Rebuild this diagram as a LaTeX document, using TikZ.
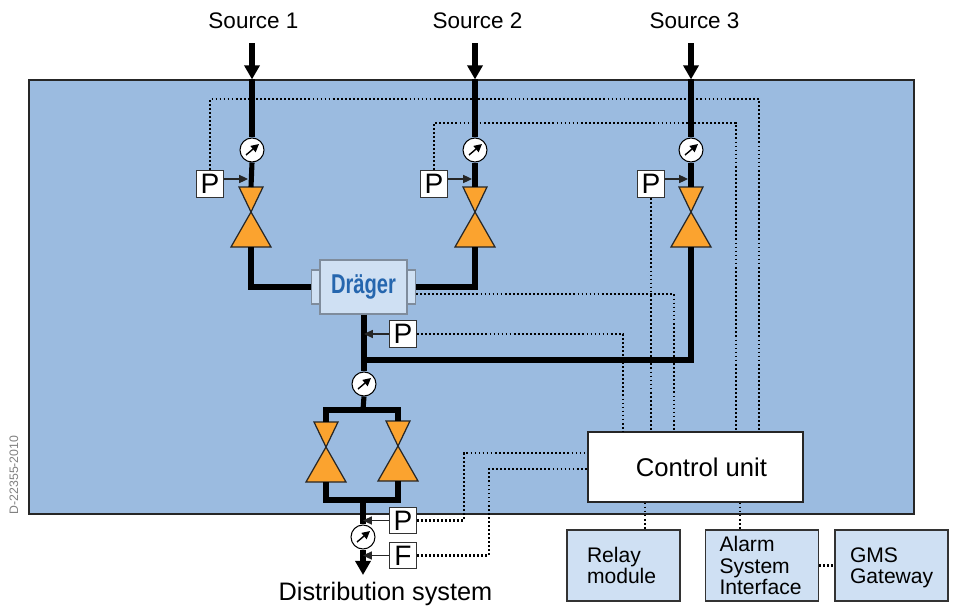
\documentclass[tikz,border=0pt]{standalone}
\usepackage{fontspec}
\setmainfont{Liberation Sans}
\newfontfamily\logofont[FakeStretch=0.74]{Liberation Sans}
\usetikzlibrary{arrows.meta, calc}
\definecolor{panelblue}{HTML}{9BBBE0}
\definecolor{boxblue}{HTML}{CFE0F3}
\definecolor{valveorange}{HTML}{FBA32F}
\definecolor{logoblue}{HTML}{2566AE}
\definecolor{tabgray}{HTML}{7F8C9C}
\tikzstyle{flow} = [draw, line width=2.9pt]
\tikzstyle{flowend} = [flow, -{Triangle[length=8pt, width=8.5pt]}]
\tikzstyle{sig} = [draw, black, line width=1.5pt, dash pattern=on 1pt off 1.3pt]
\tikzstyle{feed} = [draw, black!85, line width=0.7pt, -{Triangle[length=5pt, width=4.6pt]}]
\tikzstyle{sensor} = [rectangle, draw, black!80, fill=white, line width=0.6pt, minimum size=0.53cm, inner sep=0pt, font=\fontsize{16}{16}\selectfont, text=black]
\tikzstyle{gauge} = [circle, draw, fill=white, line width=0.6pt, minimum size=0.48cm, inner sep=0pt]
\tikzstyle{valve} = [draw=black!85, fill=valveorange, line width=0.7pt]
\tikzstyle{sidetab} = [rectangle, draw=tabgray, fill=boxblue, line width=0.7pt, minimum width=0.17cm, minimum height=0.68cm, inner sep=0pt]
\tikzstyle{module} = [rectangle, draw, black!80, fill=boxblue, line width=0.6pt, minimum width=2.26cm, minimum height=1.42cm, text width=2.26cm, inner xsep=0pt, inner ysep=0pt, align=left, text=black, font=\fontsize{12}{12.1}\selectfont]
\tikzstyle{label} = [font=\fontsize{12.8}{14}\selectfont]
\begin{document}
\begin{tikzpicture}[x=0.02cm, y=-0.02cm]
    \useasboundingbox (0,0) rectangle (953,608);
    \node[rectangle, draw, black!85, fill=panelblue, line width=0.7pt, minimum width=17.7cm, minimum height=8.68cm, inner sep=0pt] (panel) at (471.5,297) {};
    \node[gray, rotate=90, font=\fontsize{7}{7}\selectfont] (code) at (14,475) {D-22355-2010};
    %%% Sources:
    \node[label] (src1) at (253.5,21) {Source 1};
    \node[label] (src2) at (477.5,21) {Source 2};
    \node[label] (src3) at (694.5,21) {Source 3};
    %%% Valves:
    \foreach \nm/\x/\y in {v1/251/212, v2/475/212, v3/691/212, v4/326/447, v5/398/446} {
      \coordinate (\nm t) at (\x,\y-25);
      \coordinate (\nm b) at (\x,\y+35);
      \draw[valve] (\x-12,\y-25) -- (\x+12,\y-25) -- (\x,\y) -- cycle;
      \draw[valve] (\x,\y) -- (\x+20,\y+35) -- (\x-20,\y+35) -- cycle;
    }
    %%% Gauges:
    \foreach \nm/\x/\y in {g1/252/150, g2/475/150, g3/691/150, g4/364/384, g5/363/537} {
      \node[gauge] (\nm) at (\x,\y) {};
      \draw[line width=0.8pt, -{Triangle[length=4.5pt, width=4.5pt]}] ($(\nm)+(-6,5)$) -- ($(\nm)+(7,-6)$);
    }
    %%% Sensors:
    \node[sensor] (p1) at (210,184) {P};
    \node[sensor] (p2) at (434,184) {P};
    \node[sensor] (p3) at (651,184) {P};
    \node[sensor] (p4) at (403,334) {P};
    \node[sensor] (p5) at (403,520.5) {P};
    \node[sensor] (f1) at (403,555.5) {F};
    %%% Blender:
    \node[sidetab] (tabl) at (316,287) {};
    \node[sidetab] (tabr) at (411,287) {};
    \node[rectangle, draw=tabgray, fill=boxblue, line width=0.7pt, minimum width=1.74cm, minimum height=1.08cm, inner sep=0pt, text=logoblue, font=\logofont\bfseries\fontsize{15.5}{16}\selectfont] (blender) at (363.5,287) {\raisebox{-1.6pt}{Dräger}};
    %%% Control unit and modules:
    \node[rectangle, draw, black!85, fill=white, line width=0.7pt, minimum width=4.3cm, minimum height=1.4cm, inner sep=0pt, font=\fontsize{14.6}{16}\selectfont, text=black] (ctrl) at (695.5,467) {\hspace*{.24cm}Control unit};
    \node[module] (relay) at (623.5,565.5) {\hspace*{.4cm}Relay\\\hspace*{.4cm}module};
    \node[module] (alarm) at (762,565.5) {\hspace*{.28cm}Alarm\\\hspace*{.28cm}System\\\hspace*{.28cm}Interface};
    \node[module] (gms) at (891.5,565.5) {\rule{0pt}{10.9pt}\hspace*{.3cm}GMS\\\hspace*{.3cm}Gateway};
    \node[font=\fontsize{14.4}{16}\selectfont] (dist) at (385.5,593.5) {Distribution system};
    %%% Signal lines:
    \coordinate (r1) at (759,99);
    \coordinate (r2) at (736,123);
    \coordinate (r4) at (674,294);
    \coordinate (r5) at (623,334);
    \coordinate (r6) at (464,453);
    \coordinate (r7) at (489,469);
    \path [sig] (p1.north) |- (r1) -- (r1 |- ctrl.north);
    \path [sig] (p2.north) |- (r2) -- (r2 |- ctrl.north);
    \path [sig] (p3.south) -- (p3 |- ctrl.north);
    \path [sig] (tabr.east |- r4) -- (r4) -- (r4 |- ctrl.north);
    \path [sig] (p4.east) -- (r5) -- (r5 |- ctrl.north);
    \path [sig] (p5.east) -| (r6) -- (r6 -| ctrl.west);
    \path [sig] (f1.east) -| (r7) -- (r7 -| ctrl.west);
    \path [sig] (ctrl.south -| 645,0) -- (relay.north -| 645,0);
    \path [sig] (ctrl.south -| 740,0) -- (alarm.north -| 740,0);
    \path [sig] (alarm.east) -- (gms.west);
    %%% Gas lines:
    \coordinate (t1) at (g1 |- panel.north);
    \coordinate (t2) at (g2 |- panel.north);
    \coordinate (t3) at (g3 |- panel.north);
    \coordinate (j1) at (g4 |- 0,360);
    \coordinate (j2) at (g5 |- 0,410);
    \coordinate (j3) at (g5 |- 0,500);
    \coordinate (outlet) at (g5 |- 0,575);
    \path [flowend] ($(src1.south -| t1)+(0,8)$) -- (t1);
    \path [flowend] ($(src2.south -| t2)+(0,8)$) -- (t2);
    \path [flowend] ($(src3.south -| t3)+(0,8)$) -- (t3);
    \path [flow] (t1) -- (g1.north);
    \path [flow] (t2) -- (g2.north);
    \path [flow] (t3) -- (g3.north);
    \path [flow] (g1.south) -- (v1t);
    \path [flow] (g2.south) -- (v2t);
    \path [flow] (g3.south) -- (v3t);
    \path [flow] (v1b) |- (tabl.west);
    \path [flow] (v2b) |- (tabr.east);
    \path [flow] (v3b) |- (j1);
    \path [flow] (blender.south -| g4) -- (g4.north);
    \path [flow] (g4.south) -- (j2);
    \path [flow] (v4t) |- (j2) -| (v5t);
    \path [flow] (v4b) |- (j3) -| (v5b);
    \path [flow] (j3) -- (g5.north);
    \path [flowend] (g5.south) -- (outlet);
    %%% Pressure feeds:
    \path [feed] (p1.east |- 0,179) -- (248,179);
    \path [feed] (p2.east |- 0,179) -- (472,179);
    \path [feed] (p3.east |- 0,179) -- (688,179);
    \path [feed] (p4.west) -- (p4 -| g4);
    \path [feed] (p5.west) -- (p5 -| g5);
    \path [feed] (f1.west) -- (f1 -| g5);
\end{tikzpicture}
\end{document}
